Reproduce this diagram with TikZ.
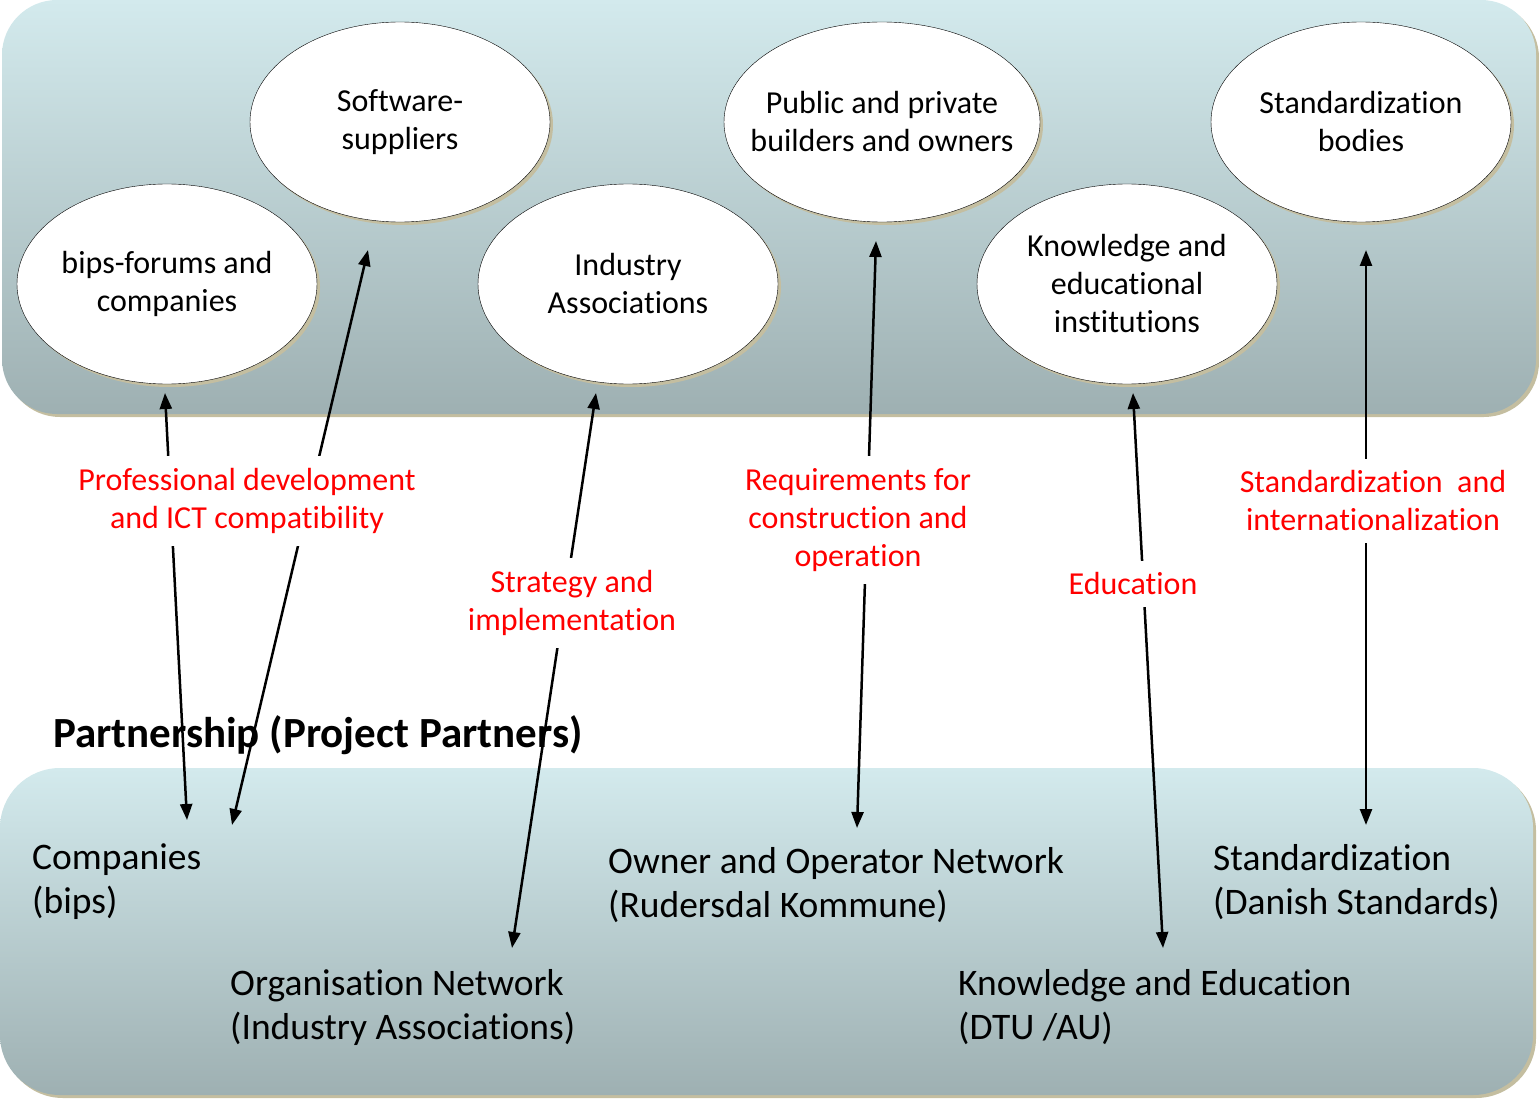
\documentclass[tikz,border=0pt]{standalone}
\usepackage{fontspec}
\setmainfont{Carlito}[Ligatures={NoCommon}]
\usetikzlibrary{arrows.meta, shapes.geometric, shadows}
\definecolor{panelTop}{RGB}{211,234,237}
\definecolor{panelBottom}{RGB}{158,176,178}
\definecolor{shadowKhaki}{RGB}{196,190,160}

\tikzset{
  panel/.style={rounded corners=55pt, top color=panelTop, bottom color=panelBottom},
  party/.style={ellipse, draw=black, fill=white, minimum width=300pt, minimum height=200pt,
    align=center, inner xsep=-40pt, inner ysep=0pt, font=\fontsize{32}{38}\selectfont,
    drop shadow={shadow xshift=3pt, shadow yshift=-3pt, fill=shadowKhaki, opacity=1}},
  topic/.style={text=red, fill=white, align=center, inner sep=12pt, font=\fontsize{32}{38}\selectfont},
  partner/.style={anchor=west, align=left, inner sep=0pt, font=\fontsize{37.5}{44}\selectfont},
  link/.style={{Triangle[length=16pt,width=12pt]}-{Triangle[length=16pt,width=12pt]}, line width=2.5pt}
}

\begin{document}
\begin{tikzpicture}[x=1pt, y=-1pt]
            \useasboundingbox (0,0) rectangle (1539,1099);

            % panels
            \fill[shadowKhaki, rounded corners=55pt] (5,3) rectangle (1539,417);
            \shade[panel] (2,0) rectangle (1536,414);
            \fill[shadowKhaki, rounded corners=60pt] (3,771) rectangle (1536,1098);
            \shade[panel, rounded corners=60pt] (0,768) rectangle (1533,1095);

            % ellipses
            \node[party] (bips) at (167,284) {bips-forums and\\companies};
            \node[party] (soft) at (400,122) {Software-\\suppliers};
            \node[party] (indu) at (628,284) {Industry\\Associations};
            \node[party, minimum width=316pt] (owner) at (882,122) {Public and private\\builders and owners};
            \node[party] (know) at (1127,284) {Knowledge and\\educational\\institutions};
            \node[party] (stdb) at (1361,122) {Standardization\\bodies};

            \node[anchor=west, inner sep=0pt, font=\bfseries\fontsize{43}{50}\selectfont] (title) at (53,735) {Partnership (Project Partners)};

            \node[partner] (compP) at (32,882) {Companies\\(bips)};
            \node[partner] (orgP) at (230,1007) {Organisation Network\\(Industry Associations)};
            \node[partner] (ownerP) at (608,885) {Owner and Operator Network\\(Rudersdal Kommune)};
            \node[partner] (knowP) at (958,1007) {Knowledge and Education\\(DTU /AU)};
            \node[partner] (stdP) at (1213,882) {Standardization\\(Danish Standards)};

            % arrow ends
            \coordinate (bipsUp) at (165,393);
            \coordinate (bipsDown) at (187,820);
            \coordinate (softUp) at (368,250);
            \coordinate (softDown) at (232,825);
            \coordinate (induUp) at (596,393);
            \coordinate (induDown) at (512,948);
            \coordinate (ownerUp) at (876,241);
            \coordinate (ownerDown) at (857,828);
            \coordinate (knowUp) at (1133,393);
            \coordinate (knowDown) at (1163,948);
            \coordinate (stdUp) at (1366,250);
            \coordinate (stdDown) at (1366,825);

            \draw[link] (bipsDown) -- (bipsUp);
            \draw[link] (softDown) -- (softUp);
            \draw[link] (induDown) -- (induUp);
            \draw[link] (ownerDown) -- (ownerUp);
            \draw[link] (knowDown) -- (knowUp);
            \draw[link] (stdDown) -- (stdUp);

            \node[topic] (profT) at (247,501) {Professional development\\and ICT compatibility};
            \node[topic] (stratT) at (572,603) {Strategy and\\implementation};
            \node[topic] (reqT) at (858,520) {Requirements for\\construction and\\operation};
            \node[topic] (eduT) at (1133,584) {Education};
            \node[topic] (stdT) at (1373,501) {Standardization\ \ and\\internationalization};
\end{tikzpicture}
\end{document}
